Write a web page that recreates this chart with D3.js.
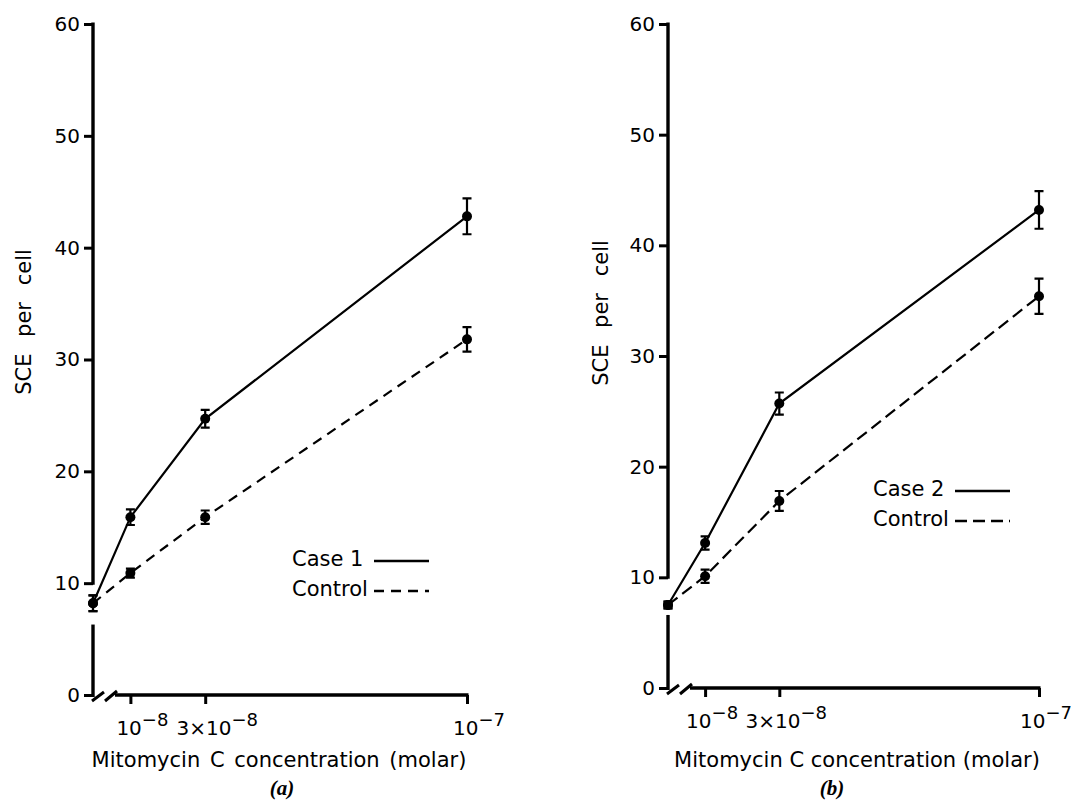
<!DOCTYPE html>
<html>
<head>
<meta charset="utf-8">
<script src="https://cdn.jsdelivr.net/npm/d3@7"></script>
<style>
  body { margin: 0; background: #fff; }
  text { font-family: "DejaVu Sans", sans-serif; fill: #000; }
</style>
</head>
<body>
<svg id="chart" width="1071" height="805"></svg>
<script>
// concentrations (molar), 0 = untreated baseline
const conc = [0, 1e-8, 3e-8, 1e-7];

const case1Mean = [8.2, 15.9, 24.7, 42.8];
const case1Err = [0.7, 0.7, 0.8, 1.6];
const control1Mean = [8.2, 10.9, 15.9, 31.8];
const control1Err = [0.7, 0.4, 0.6, 1.1];

const case2Mean = [7.5, 13.1, 25.7, 43.2];
const case2Err = [0.3, 0.6, 1.0, 1.7];
const control2Mean = [7.5, 10.1, 16.9, 35.4];
const control2Err = [0.3, 0.6, 0.9, 1.6];

const yTicks = [0, 10, 20, 30, 40, 50, 60];
const xTicks = [1e-8, 3e-8, 1e-7];
const xTickBase = ["10", "3\u00d710", "10"];
const xTickExp = ["\u22128", "\u22128", "\u22127"];

const svg = d3.select("#chart");

function drawPanel(p) {
    const x = d3.scaleLinear().domain([0, 1e-7]).range([p.left, p.right]);
    const y = d3.scaleLinear().domain([0, 60]).range([p.bottom, 24]);
    const g = svg.append("g");

    // y axis (broken between gapLow and 10)
    const ya = g.append("g")
        .attr("transform", "translate(" + p.left + ",0)")
        .call(d3.axisLeft(y).tickValues(yTicks).tickSize(9).tickPadding(4));
    ya.select(".domain").remove();
    ya.selectAll(".tick line").attr("stroke-width", 3);
    ya.selectAll(".tick text")
        .style("font-size", "20px")
        .style("font-family", "DejaVu Sans");
    g.append("path")
        .attr("d", "M" + p.left + "," + (y(60) - 1.5) + "V" + (y(10) + 1.5))
        .attr("stroke", "#000").attr("stroke-width", 3.4);
    g.append("path")
        .attr("d", "M" + p.left + "," + y(p.gapLow) + "V" + (y(0) + 2))
        .attr("stroke", "#000").attr("stroke-width", 3.4);

    // x axis with break marks
    const xa = g.append("g")
        .attr("transform", "translate(0," + y(0) + ")")
        .call(d3.axisBottom(x).tickValues(xTicks).tickSize(9).tickFormat(""));
    xa.select(".domain").remove();
    xa.selectAll(".tick line").attr("stroke-width", 3);
    g.append("path")
        .attr("d", "M" + (p.left + 22) + "," + y(0) + "H" + (x(1e-7) + 1.5))
        .attr("stroke", "#000").attr("stroke-width", 3.4);
    g.append("path")
        .attr("d", "M" + (p.left - 1) + "," + (y(0) + 6) + "l12,-9"
            + "M" + (p.left + 12) + "," + (y(0) + 6) + "l12,-10")
        .attr("stroke", "#000").attr("stroke-width", 3).attr("fill", "none");

    xTicks.forEach(function (t, i) {
        const txt = g.append("text")
            .attr("x", x(t) + p.tickDx)
            .attr("y", p.tickY)
            .attr("text-anchor", "middle")
            .style("font-size", "20px");
        txt.append("tspan").text(xTickBase[i]);
        txt.append("tspan").attr("dy", -9).style("font-size", "18px").text(xTickExp[i]);
    });

    // axis titles
    g.append("text")
        .attr("transform", "translate(" + p.yTitleX + "," + p.yTitleY + ") rotate(-90)")
        .attr("text-anchor", "middle")
        .style("font-size", "21px")
        .style("word-spacing", "10px")
        .text("SCE per cell");
    g.append("text")
        .attr("x", p.xTitleX)
        .attr("y", 767)
        .attr("text-anchor", "middle")
        .style("font-size", "21px")
        .style("word-spacing", p.wordSpacing)
        .text("Mitomycin C concentration (molar)");
    g.append("text")
        .attr("x", p.panelX)
        .attr("y", 795)
        .attr("text-anchor", "middle")
        .style("font-family", "Liberation Serif, serif")
        .style("font-weight", "bold")
        .style("font-style", "italic")
        .style("font-size", "21px")
        .text(p.panelLabel);

    const line = d3.line()
        .x(function (d) { return x(d.c); })
        .y(function (d) { return y(d.m); });

    p.series.forEach(function (s) {
        const pts = conc.map(function (c, i) { return {c: c, m: s.mean[i], e: s.err[i]}; });
        g.append("path")
            .datum(pts)
            .attr("d", line)
            .attr("fill", "none")
            .attr("stroke", "#000")
            .attr("stroke-width", 2.2)
            .attr("stroke-dasharray", s.dash);

        const eb = g.append("g").selectAll("g")
            .data(pts)
            .enter().append("g");
        eb.append("path")
            .attr("d", function (d) {
                const cx = x(d.c), y1 = y(d.m + d.e), y2 = y(d.m - d.e);
                return "M" + cx + "," + y1 + "V" + y2
                    + "M" + (cx - 4.5) + "," + y1 + "h9"
                    + "M" + (cx - 4.5) + "," + y2 + "h9";
            })
            .attr("stroke", "#000")
            .attr("stroke-width", 2.2)
            .attr("fill", "none");
        eb.append("circle")
            .attr("cx", function (d) { return x(d.c); })
            .attr("cy", function (d) { return y(d.m); })
            .attr("r", 5)
            .attr("fill", "#000");
    });

    // legend
    p.series.forEach(function (s, i) {
        const ly = p.legendY + i * 30;
        g.append("text")
            .attr("x", p.legendX)
            .attr("y", ly)
            .style("font-size", "21px")
            .text(s.name);
        g.append("line")
            .attr("x1", p.legendX + 82).attr("x2", p.legendX + 137)
            .attr("y1", ly - 5).attr("y2", ly - 5)
            .attr("stroke", "#000")
            .attr("stroke-width", 2.4)
            .attr("stroke-dasharray", s.dash);
    });
}

drawPanel({
    left: 93, right: 467, bottom: 695, gapLow: 6.3,
    tickDx: 12, tickY: 735,
    yTitleX: 31, yTitleY: 322,
    xTitleX: 279, wordSpacing: "3px",
    panelX: 282, panelLabel: "(a)",
    legendX: 292, legendY: 566,
    series: [
        {name: "Case 1", mean: case1Mean, err: case1Err, dash: null},
        {name: "Control", mean: control1Mean, err: control1Err, dash: "10,7"}
    ]
});

drawPanel({
    left: 668, right: 1039, bottom: 688, gapLow: 6.6,
    tickDx: 7, tickY: 728,
    yTitleX: 608, yTitleY: 313,
    xTitleX: 857, wordSpacing: "0px",
    panelX: 832, panelLabel: "(b)",
    legendX: 873, legendY: 496,
    series: [
        {name: "Case 2", mean: case2Mean, err: case2Err, dash: null},
        {name: "Control", mean: control2Mean, err: control2Err, dash: "12,6"}
    ]
});
</script>
</body>
</html>
